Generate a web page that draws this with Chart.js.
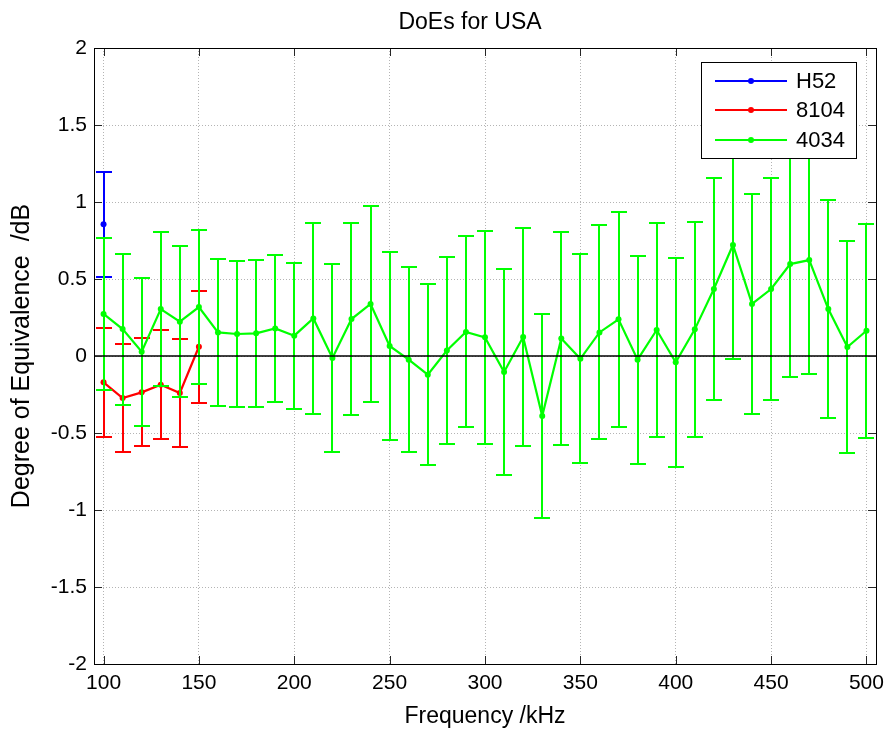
<!DOCTYPE html>
<html>
<head>
<meta charset="utf-8">
<script src="https://cdn.jsdelivr.net/npm/chart.js@4/dist/chart.umd.min.js"></script>
<style>
  html, body { margin: 0; padding: 0; background: #fff; }
  #wrap { width: 892px; height: 730px; }
</style>
</head>
<body>
<div id="wrap"><canvas id="c" width="892" height="730"></canvas></div>
<script>
// Series names, in legend order
const seriesNames = ['H52', '8104', '4034'];
const chartTitle = 'DoEs for USA';

// H52
const freqH52 = [100];
const doeH52  = [0.855];
const uncH52  = [0.342];

// 8104
const freq8104 = [100, 110, 120, 130, 140, 150];
const doe8104  = [-0.171, -0.273, -0.236, -0.186, -0.240, 0.060];
const unc8104  = [0.352, 0.350, 0.350, 0.355, 0.350, 0.365];

// 4034
const freq4034 = [100, 110, 120, 130, 140, 150, 160, 170, 180, 190,
                  200, 210, 220, 230, 240, 250, 260, 270, 280, 290,
                  300, 310, 320, 330, 340, 350, 360, 370, 380, 390,
                  400, 410, 420, 430, 440, 450, 460, 470, 480, 490, 500];
const doe4034  = [0.273, 0.175, 0.028, 0.305, 0.223, 0.318, 0.153, 0.143, 0.147, 0.179,
                  0.132, 0.244, -0.013, 0.240, 0.338, 0.065, -0.024, -0.121, 0.036, 0.156,
                  0.121, -0.104, 0.123, -0.390, 0.114, -0.018, 0.153, 0.238, -0.024, 0.169,
                  -0.041, 0.173, 0.435, 0.721, 0.338, 0.435, 0.597, 0.623, 0.305, 0.058, 0.164];
const unc4034  = [0.495, 0.490, 0.480, 0.500, 0.490, 0.500, 0.476, 0.475, 0.475, 0.475,
                  0.473, 0.620, 0.610, 0.625, 0.635, 0.610, 0.600, 0.590, 0.610, 0.620,
                  0.690, 0.670, 0.710, 0.665, 0.690, 0.680, 0.695, 0.700, 0.675, 0.695,
                  0.680, 0.696, 0.720, 0.740, 0.714, 0.720, 0.736, 0.740, 0.710, 0.690, 0.695];

// Axis ticks and limits
const xTicks = [100, 150, 200, 250, 300, 350, 400, 450, 500];
const yTicks = [-2, -1.5, -1, -0.5, 0, 0.5, 1, 1.5, 2];
const xLimits = [95, 505];
const yLimits = [-2, 2];

const FONT = "'Liberation Sans', Arial, Helvetica, sans-serif";
Chart.defaults.font.family = FONT;
Chart.defaults.color = '#000';

const toPoints = (xs, ys) => xs.map((x, i) => ({ x: x, y: ys[i] }));

// Vertical error bars with caps, drawn under each dataset's line
const errorBars = {
  id: 'errorBars',
  beforeDatasetDraw(chart, args) {
    const ds = chart.data.datasets[args.index];
    if (!ds.err) return;
    const { ctx, chartArea: a, scales: { x, y } } = chart;
    const cap = 8;
    ctx.save();
    ctx.beginPath();
    ctx.rect(a.left, a.top, a.right - a.left, a.bottom - a.top);
    ctx.clip();
    ctx.strokeStyle = ds.borderColor;
    ctx.lineWidth = 2;
    ctx.lineCap = 'butt';
    ds.data.forEach((p, i) => {
      const px = Math.round(x.getPixelForValue(p.x));
      const yHi = Math.round(y.getPixelForValue(p.y + ds.err[i]));
      const yLo = Math.round(y.getPixelForValue(p.y - ds.err[i]));
      ctx.beginPath();
      ctx.moveTo(px, yHi); ctx.lineTo(px, yLo);
      ctx.moveTo(px - cap, yHi); ctx.lineTo(px + cap, yHi);
      ctx.moveTo(px - cap, yLo); ctx.lineTo(px + cap, yLo);
      ctx.stroke();
    });
    ctx.restore();
  }
};

// Boxed axes with inward tick marks on all four sides
const frame = {
  id: 'frame',
  afterDatasetsDraw(chart) {
    const { ctx, chartArea: a, scales: { x, y } } = chart;
    const L = 8;
    ctx.save();
    ctx.strokeStyle = '#262626';
    ctx.lineWidth = 1;
    ctx.beginPath();
    xTicks.forEach(v => {
      const px = Math.round(x.getPixelForValue(v)) + 0.5;
      ctx.moveTo(px, a.bottom); ctx.lineTo(px, a.bottom - L);
      ctx.moveTo(px, a.top); ctx.lineTo(px, a.top + L);
    });
    yTicks.forEach(v => {
      const py = Math.round(y.getPixelForValue(v)) + 0.5;
      ctx.moveTo(a.left, py); ctx.lineTo(a.left + L, py);
      ctx.moveTo(a.right, py); ctx.lineTo(a.right - L, py);
    });
    ctx.stroke();
    ctx.strokeStyle = '#000';
    ctx.strokeRect(Math.round(a.left) + 0.5, Math.round(a.top) + 0.5,
                   Math.round(a.right - a.left), Math.round(a.bottom - a.top));
    ctx.restore();
  }
};

// Title above the axes
const plotTitle = {
  id: 'plotTitle',
  afterDraw(chart) {
    const { ctx, chartArea: a } = chart;
    ctx.save();
    ctx.font = '23px ' + FONT;
    ctx.fillStyle = '#000';
    ctx.textAlign = 'center';
    ctx.textBaseline = 'middle';
    ctx.fillText(chartTitle, (a.left + a.right) / 2 - 15, a.top - 25);
    ctx.restore();
  }
};

// Boxed legend in the upper right corner of the plot
const boxLegend = {
  id: 'boxLegend',
  afterDraw(chart) {
    const { ctx, chartArea: a } = chart;
    const w = 155, h = 96;
    const left = Math.round(a.right - 20 - w);
    const top = Math.round(a.top + 14);
    ctx.save();
    ctx.fillStyle = '#fff';
    ctx.fillRect(left, top, w, h);
    ctx.strokeStyle = '#000';
    ctx.lineWidth = 1;
    ctx.strokeRect(left + 0.5, top + 0.5, w, h);
    ctx.font = '22px ' + FONT;
    ctx.textBaseline = 'middle';
    ctx.textAlign = 'left';
    seriesNames.forEach((name, i) => {
      const ds = chart.data.datasets.find(d => d.label === name);
      const yy = Math.round(top + 19 + i * 29.3);
      ctx.strokeStyle = ds.borderColor;
      ctx.lineWidth = 2;
      ctx.beginPath();
      ctx.moveTo(left + 14, yy); ctx.lineTo(left + 86, yy);
      ctx.stroke();
      ctx.fillStyle = ds.borderColor;
      ctx.beginPath();
      ctx.arc(left + 50, yy, 3, 0, Math.PI * 2);
      ctx.fill();
      ctx.fillStyle = '#000';
      ctx.fillText(name, left + 95, yy + 1);
    });
    ctx.restore();
  }
};

const seriesStyle = (color) => ({
  borderColor: color,
  backgroundColor: color,
  borderWidth: 2.2,
  pointRadius: 3,
  pointBorderWidth: 0,
  pointHoverRadius: 3,
  tension: 0,
  fill: false
});

new Chart(document.getElementById('c'), {
  type: 'line',
  data: {
    datasets: [
      Object.assign({ label: seriesNames[1], data: toPoints(freq8104, doe8104), err: unc8104, order: 3 }, seriesStyle('#ff0000')),
      Object.assign({ label: seriesNames[0], data: toPoints(freqH52, doeH52), err: uncH52, order: 2 }, seriesStyle('#0000ff')),
      Object.assign({ label: seriesNames[2], data: toPoints(freq4034, doe4034), err: unc4034, order: 1 }, seriesStyle('#00ff00')),
      {
        label: 'zero',
        data: [{ x: xLimits[0], y: 0 }, { x: xLimits[1], y: 0 }],
        borderColor: '#000',
        borderWidth: 1.6,
        pointRadius: 0,
        order: 0
      }
    ]
  },
  options: {
    responsive: false,
    animation: false,
    events: [],
    layout: { padding: { left: 0, right: 16, top: 48, bottom: 0 } },
    plugins: {
      legend: { display: false },
      tooltip: { enabled: false },
      title: { display: false }
    },
    scales: {
      x: {
        type: 'linear',
        min: xLimits[0],
        max: xLimits[1],
        afterBuildTicks: s => { s.ticks = xTicks.map(v => ({ value: v })); },
        afterFit: s => { s.height = 66; },
        ticks: { font: { size: 21 }, color: '#000', padding: 7, maxRotation: 0, autoSkip: false,
                 callback: v => String(v) },
        grid: { color: '#b4b4b4', lineWidth: 1, drawTicks: false },
        border: { display: false, dash: [1, 2] },
        title: { display: true, text: 'Frequency /kHz', color: '#000', font: { size: 23 },
                 padding: { top: 0, bottom: 0 } }
      },
      y: {
        type: 'linear',
        min: yLimits[0],
        max: yLimits[1],
        afterBuildTicks: s => { s.ticks = yTicks.map(v => ({ value: v })); },
        afterFit: s => { s.width = 94; },
        ticks: { font: { size: 21 }, color: '#000', padding: 7, autoSkip: false,
                 callback: v => String(v) },
        grid: { color: '#b4b4b4', lineWidth: 1, drawTicks: false },
        border: { display: false, dash: [1, 2] },
        title: { display: true, text: 'Degree of Equivalence  /dB', color: '#000', font: { size: 25 },
                 padding: { top: 7, bottom: 0 } }
      }
    }
  },
  plugins: [errorBars, frame, plotTitle, boxLegend]
});
</script>
</body>
</html>
